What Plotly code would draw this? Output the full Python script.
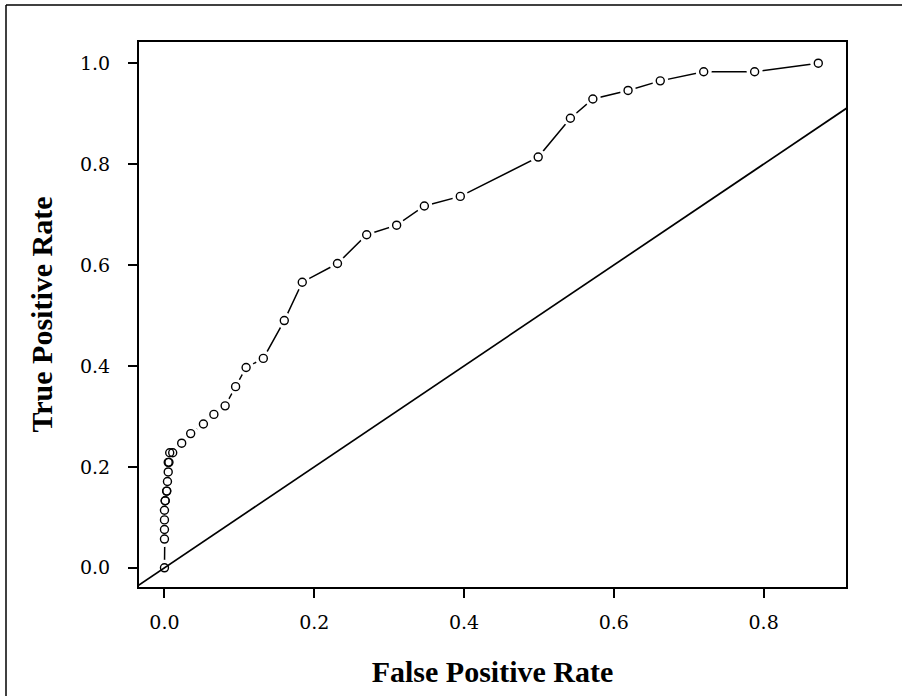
import plotly.graph_objects as go

# ROC curve points (False Positive Rate, True Positive Rate)
fpr = [0.000, 0.000, 0.000, 0.000, 0.000, 0.001, 0.001, 0.003, 0.003, 0.004,
       0.005, 0.005, 0.006, 0.007, 0.011, 0.023, 0.035, 0.052, 0.066, 0.081,
       0.095, 0.109, 0.132, 0.160, 0.184, 0.231, 0.270, 0.310, 0.347, 0.395,
       0.499, 0.542, 0.572, 0.619, 0.662, 0.720, 0.788, 0.873]
tpr = [0.000, 0.057, 0.076, 0.095, 0.114, 0.133, 0.133, 0.152, 0.152, 0.171,
       0.190, 0.209, 0.209, 0.228, 0.228, 0.247, 0.266, 0.285, 0.304, 0.321,
       0.359, 0.397, 0.415, 0.490, 0.566, 0.603, 0.660, 0.679, 0.717, 0.736,
       0.814, 0.891, 0.929, 0.946, 0.965, 0.983, 0.983, 1.000]

# chance diagonal (y = x), clipped by the axes
diag_x = [-1.0, 2.0]
diag_y = [-1.0, 2.0]

x_ticks = [0.0, 0.2, 0.4, 0.6, 0.8]
x_labels = ["0.0", "0.2", "0.4", "0.6", "0.8"]
y_ticks = [0.0, 0.2, 0.4, 0.6, 0.8, 1.0]
y_labels = ["0.0", "0.2", "0.4", "0.6", "0.8", "1.0"]

SERIF = "Liberation Serif, Times New Roman, serif"
TICKFONT = "DejaVu Serif, serif"

W, H = 902, 696
L, R, T, B = 139, 902 - 846, 42, 696 - 587

fig = go.Figure()
fig.add_trace(go.Scatter(x=fpr, y=tpr, mode="lines",
                         line=dict(color="black", width=1.5),
                         hoverinfo="skip", showlegend=False))
fig.add_trace(go.Scatter(x=fpr, y=tpr, mode="markers",
                         marker=dict(symbol="circle", size=16, color="white",
                                     line=dict(width=0)),
                         hoverinfo="skip", showlegend=False, cliponaxis=False))
fig.add_trace(go.Scatter(x=fpr, y=tpr, mode="markers",
                         marker=dict(symbol="circle-open", size=8, color="black",
                                     line=dict(width=1.4, color="black")),
                         showlegend=False, cliponaxis=False))
fig.add_trace(go.Scatter(x=diag_x, y=diag_y, mode="lines",
                         line=dict(color="black", width=1.7),
                         hoverinfo="skip", showlegend=False))

axis_common = dict(showgrid=False, zeroline=False, showline=True, mirror=True,
                   linecolor="black", linewidth=2, ticks="outside", ticklen=9,
                   tickwidth=1.5, tickcolor="black",
                   tickfont=dict(family=TICKFONT, size=19, color="black"))

pw = W - L - R
ph = H - T - B
fx0 = (6 - L) / pw          # outer frame left, in paper units
fy1 = 1 + (T - 5) / ph      # outer frame top, in paper units

fig.update_layout(
    width=W, height=H,
    margin=dict(l=L, r=R, t=T, b=B),
    paper_bgcolor="white", plot_bgcolor="white",
    xaxis=dict(range=[-0.034, 0.91], tickvals=x_ticks, ticktext=x_labels,
               ticklabelstandoff=8,
               title=dict(text="<b>False Positive Rate</b>",
                          font=dict(family=SERIF, size=30, color="black"),
                          standoff=29),
               **axis_common),
    yaxis=dict(range=[-0.038, 1.042], tickvals=y_ticks, ticktext=y_labels,
               ticklabelstandoff=14,
               title=dict(text="<b>True Positive Rate</b>",
                          font=dict(family=SERIF, size=30, color="black"),
                          standoff=18),
               **axis_common),
    shapes=[
        dict(type="line", xref="paper", yref="paper",
             x0=fx0, x1=fx0, y0=-1.0, y1=fy1,
             line=dict(color="black", width=1.5)),
        dict(type="line", xref="paper", yref="paper",
             x0=fx0, x1=2.0, y0=fy1, y1=fy1,
             line=dict(color="black", width=1.5)),
    ],
)

# remove the browser's default 8px page margin so the figure fills the window
fig.write_html("out.html", config={"displayModeBar": False},
               post_script="document.body.style.margin='0px';")
